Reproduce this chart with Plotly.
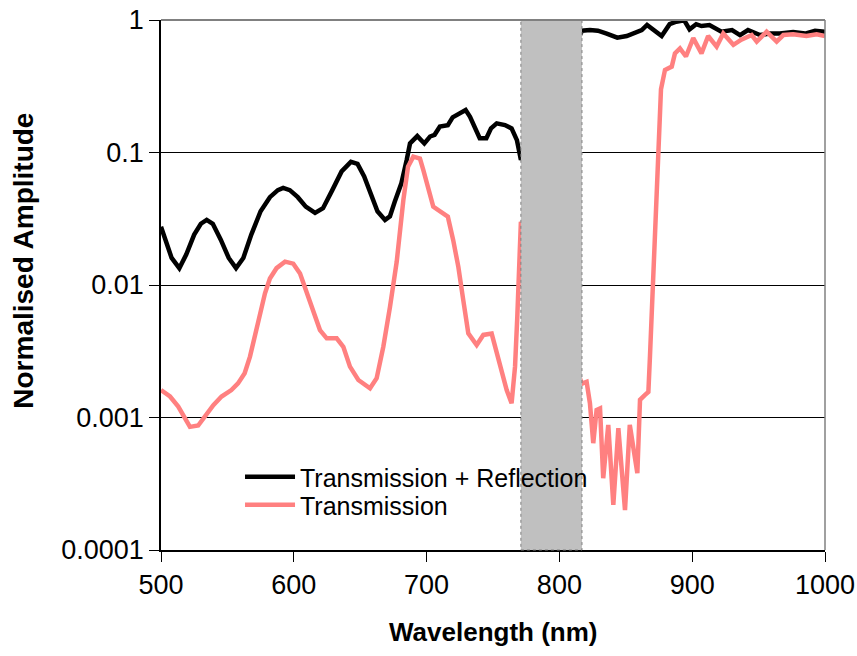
import plotly.graph_objects as go

# ---- data ----
wl_tr = [500, 504, 508, 513.8, 519, 525, 530, 534.4, 539, 545, 551, 556.5, 562, 568, 575, 582,
         588, 592, 597, 603, 609, 616, 622, 629, 636, 643, 648, 653, 658, 663, 668.7, 672.4,
         676, 681, 685, 687.5, 693, 698.3, 702.6, 706, 710, 716, 719.6, 725, 729.4, 732.7,
         736.4, 740, 745, 748.5, 752.8, 759, 764, 768, 771,
         817, 823, 829, 835.6, 843.6, 850.7, 857, 862, 866, 872, 877, 883, 888, 894, 898,
         903, 907, 913, 922, 930, 936, 942, 951, 958.6, 966, 976, 985, 992.5, 1000]
amp_tr = [0.0275, 0.021, 0.016, 0.0134, 0.017, 0.024, 0.029, 0.031, 0.029, 0.022, 0.016, 0.0134,
          0.016, 0.024, 0.036, 0.046, 0.052, 0.054, 0.052, 0.046, 0.039, 0.035, 0.038, 0.052,
          0.072, 0.085, 0.082, 0.066, 0.048, 0.036, 0.031, 0.033, 0.0425, 0.0586, 0.0877,
          0.117, 0.133, 0.117, 0.132, 0.136, 0.157, 0.161, 0.184, 0.198, 0.209, 0.186, 0.152,
          0.128, 0.128, 0.152, 0.166, 0.161, 0.152, 0.124, 0.088,
          0.83, 0.84, 0.83, 0.79, 0.735, 0.757, 0.81, 0.84, 0.917, 0.816, 0.757, 0.93, 0.97,
          0.995, 0.85, 0.93, 0.9, 0.917, 0.816, 0.84, 0.77, 0.84, 0.77, 0.79, 0.79, 0.81,
          0.79, 0.83, 0.816]

wl_t = [500, 506.8, 513, 518, 521.8, 528, 533, 539.4, 545.6, 553, 558, 563, 567, 570.8, 574.5,
        578.3, 582, 587, 593.4, 599.6, 604.7, 609.7, 614.7, 619.7, 624.8, 632.3, 637.3, 642.3,
        648.6, 657.4, 662.4, 667.4, 672.4, 677.5, 682.5, 686, 690, 695, 697.5, 701, 705, 708.8,
        716, 720, 723.9, 727.6, 731.4, 737.7, 742.7, 749, 752.8, 756.5, 760.3, 764, 766.6,
        768.3, 769.8, 771,
        817, 818, 820.5, 823, 825.5, 828, 830.6, 833, 836.8, 840.6, 844.4, 849.4, 853, 858.7,
        860.7, 864.5, 867, 868.2, 870, 872, 873.5, 875, 876.5, 879.5, 884.6, 887, 890.8, 895.3,
        900.8, 907, 912, 918.4, 923.4, 931, 937, 944.8, 948.6, 956, 963.6, 968.6, 976, 986,
        993.7, 1000]
amp_t = [0.00161, 0.00144, 0.00121, 0.00099, 0.00085, 0.00087, 0.00101, 0.00124, 0.00144,
         0.00161, 0.00181, 0.00216, 0.00288, 0.0041, 0.0061, 0.00866, 0.0112, 0.0134, 0.015,
         0.0145, 0.0122, 0.00866, 0.0061, 0.00457, 0.00396, 0.00396, 0.00342, 0.00242, 0.00192,
         0.00166, 0.00198, 0.00342, 0.0068, 0.015, 0.0438, 0.078, 0.093, 0.09, 0.0738, 0.055,
         0.039, 0.0368, 0.0328, 0.0219, 0.0137, 0.0077, 0.00432, 0.00352, 0.0042, 0.0043,
         0.00305, 0.00216, 0.00161, 0.00128, 0.00242, 0.00577, 0.0137, 0.03,
         0.0018, 0.00181, 0.00186, 0.00128, 0.00064, 0.00114, 0.00117, 0.000348, 0.00088,
         0.000219, 0.00083, 0.0002, 0.00088, 0.00038, 0.00136, 0.00148, 0.00156, 0.0029,
         0.008, 0.025, 0.06, 0.15, 0.3, 0.42, 0.445, 0.56, 0.61, 0.53, 0.73, 0.56, 0.757, 0.63,
         0.79, 0.65, 0.71, 0.77, 0.686, 0.816, 0.686, 0.77, 0.78, 0.757, 0.78, 0.757]

x_ticks = [500, 600, 700, 800, 900, 1000]
y_tickvals = [0.0001, 0.001, 0.01, 0.1, 1]
y_ticktext = ["0.0001", "0.001", "0.01", "0.1", "1"]
band = [771, 817]

FONT = "Liberation Sans, Arial, sans-serif"
TICKSIZE = 27

fig = go.Figure()
fig.add_trace(go.Scatter(x=wl_tr, y=amp_tr, mode="lines", name="Transmission + Reflection",
                         line=dict(color="#000000", width=4.5), legend="legend"))
fig.add_trace(go.Scatter(x=wl_t, y=amp_t, mode="lines", name="Transmission",
                         line=dict(color="#FF8080", width=4.5), legend="legend2"))

# white legend backdrop that hides the gridline (drawn between grid and traces)
fig.add_shape(type="rect", xref="paper", yref="paper", x0=0.092, x1=0.669, y0=0.06, y1=0.255,
              fillcolor="white", line=dict(width=0), layer="between")
fig.add_shape(type="rect", xref="x", yref="paper", x0=band[0], x1=band[1], y0=0, y1=1,
              fillcolor="#C0C0C0", line=dict(color="#808080", width=1, dash="dot"),
              layer="above")
# top and right frame (grey)
fig.add_shape(type="line", xref="paper", yref="paper", x0=0, x1=1, y0=1, y1=1,
              line=dict(color="#808080", width=2), layer="above")
fig.add_shape(type="line", xref="paper", yref="paper", x0=1, x1=1, y0=0, y1=1,
              line=dict(color="#808080", width=1.5), layer="above")

fig.add_annotation(text="<b>Normalised Amplitude</b>", textangle=-90, xref="paper", yref="paper",
                   x=-0.207, y=0.545, showarrow=False, xanchor="center", yanchor="middle",
                   font=dict(family=FONT, size=28, color="#000000"))
fig.add_annotation(text="<b>Wavelength (nm)</b>", xref="paper", yref="paper",
                   x=0.5, y=-0.155, showarrow=False, xanchor="center", yanchor="middle",
                   font=dict(family=FONT, size=26, color="#000000"))

leg_common = dict(xanchor="left", yanchor="middle", bgcolor="rgba(0,0,0,0)",
                  font=dict(family=FONT, size=25, color="#000000"), itemwidth=50)
fig.update_layout(
    width=857, height=656,
    margin=dict(l=161, r=32, t=20, b=106, autoexpand=False),
    paper_bgcolor="white", plot_bgcolor="white",
    font=dict(family=FONT, size=25, color="#000000"),
    showlegend=True,
    legend=dict(x=0.119, y=(550 - 477) / 530, **leg_common),
    legend2=dict(x=0.119, y=(550 - 505) / 530, **leg_common),
    xaxis=dict(range=[500, 1000], tickvals=x_ticks, ticks="outside", ticklen=10,
               tickwidth=1, tickcolor="#000000", showline=True, linecolor="#000000",
               linewidth=1.5, showgrid=False, zeroline=False, automargin=False,
               tickfont=dict(family=FONT, size=TICKSIZE, color="#000000")),
    yaxis=dict(type="log", range=[-4, 0], tickvals=y_tickvals, ticktext=y_ticktext,
               ticks="outside", ticklen=10, tickwidth=1, tickcolor="#000000",
               showline=True, linecolor="#000000", linewidth=1.5, automargin=False,
               showgrid=True, gridcolor="#000000", gridwidth=1, zeroline=False,
               tickfont=dict(family=FONT, size=TICKSIZE, color="#000000")),
)

fig.write_html("out.html", config={"displayModeBar": False},
               post_script="document.body.style.margin='0';document.body.style.overflow='hidden';")
